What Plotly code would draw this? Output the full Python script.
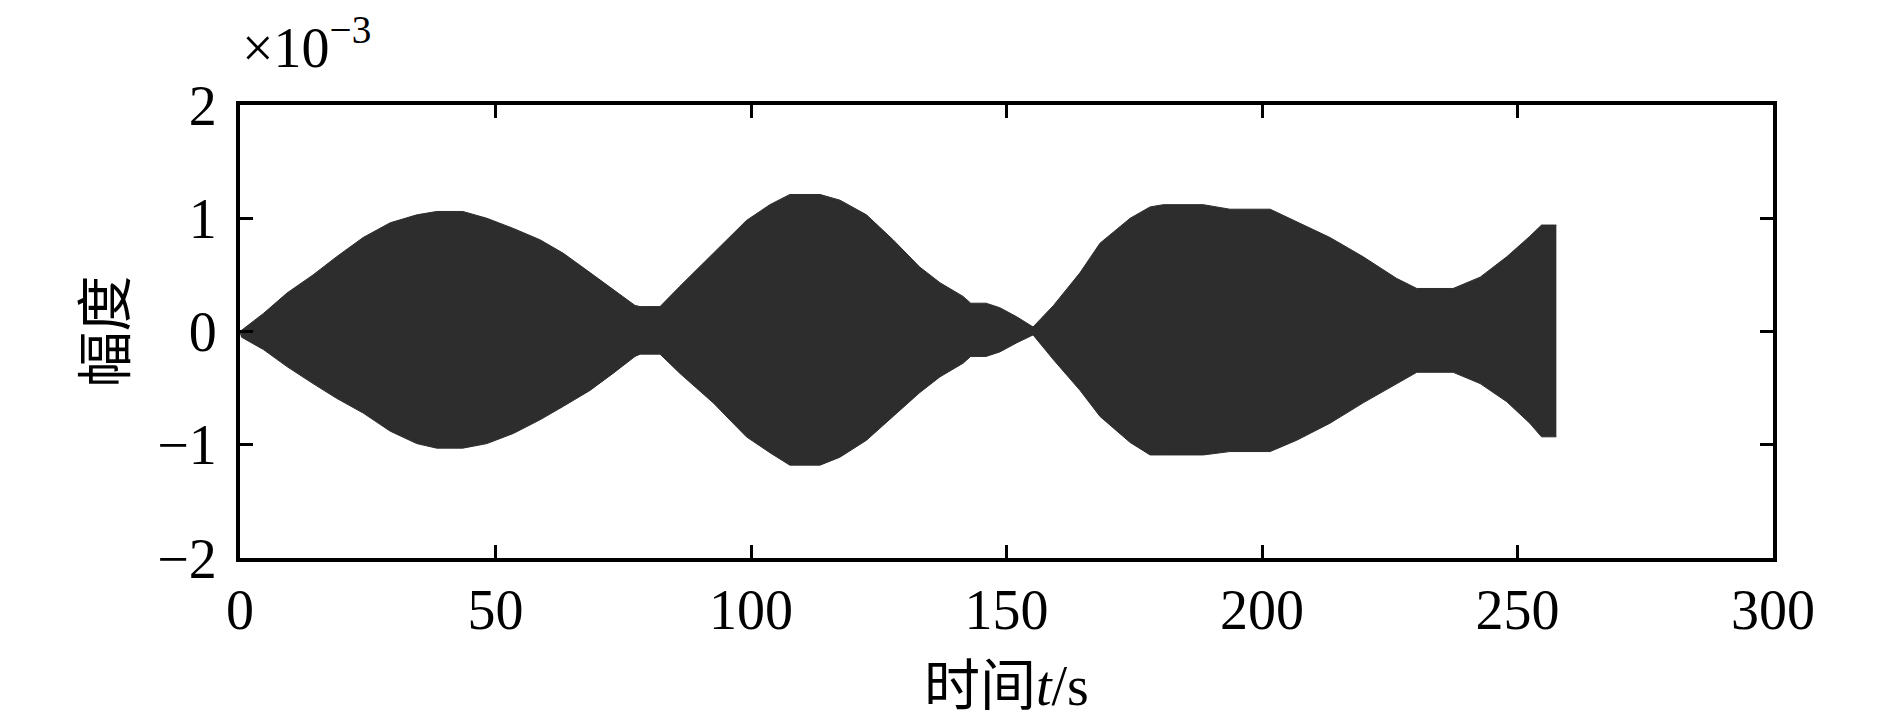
import plotly.graph_objects as go

# envelope of the signal (amplitude in units of 1e-3)
t = [0, 0.3, 4.6, 9.2, 14.3, 18.9, 24.1, 29.4, 34.6, 38.5, 43.6, 48.3, 53.5,
     58.7, 63.3, 68.5, 73.0, 77.3, 78.3, 82.2, 86.1, 92.6, 99.1, 103.7, 107.6,
     113.5, 117.4, 122.6, 127.8, 133.0, 137.0, 141.5, 143.0, 146.0, 148.7,
     152.0, 155.2, 159.2, 164.4, 168.3, 174.2, 178.1, 180.7, 188.5, 193.7,
     201.6, 206.8, 213.3, 219.8, 226.3, 230.3, 237.4, 242.7, 247.9, 252.4,
     254.7, 257.6]
upper = [0.0, 0.01, 0.16, 0.34, 0.50, 0.66, 0.83, 0.96, 1.03, 1.06, 1.06, 1.00,
         0.91, 0.81, 0.69, 0.52, 0.37, 0.23, 0.22, 0.22, 0.40, 0.69, 0.98, 1.12,
         1.21, 1.21, 1.16, 1.03, 0.81, 0.57, 0.43, 0.31, 0.25, 0.25, 0.21, 0.13,
         0.04, 0.23, 0.52, 0.78, 1.00, 1.10, 1.12, 1.12, 1.08, 1.08, 0.97, 0.83,
         0.66, 0.47, 0.38, 0.38, 0.48, 0.66, 0.84, 0.94, 0.94]
lower = [0.0, -0.05, -0.16, -0.31, -0.46, -0.59, -0.72, -0.88, -0.99, -1.03,
         -1.03, -0.99, -0.90, -0.78, -0.66, -0.52, -0.37, -0.22, -0.20, -0.20,
         -0.37, -0.63, -0.93, -1.07, -1.18, -1.18, -1.11, -0.96, -0.75, -0.54,
         -0.40, -0.28, -0.22, -0.22, -0.18, -0.10, -0.03, -0.25, -0.52, -0.75,
         -0.98, -1.09, -1.09, -1.09, -1.06, -1.06, -0.96, -0.81, -0.63, -0.46,
         -0.36, -0.36, -0.46, -0.62, -0.81, -0.93, -0.93]

x_ticks = [0, 50, 100, 150, 200, 250, 300]
y_ticks = [-2, -1, 0, 1, 2]
y_ticktext = ["\u22122", "\u22121", "0", "1", "2"]

serif = "Liberation Serif, Noto Sans CJK SC"
ink = "#2d2d2d"

fig = go.Figure()
fig.add_trace(go.Scatter(x=t, y=upper, mode="lines",
                         line=dict(color=ink, width=1), showlegend=False))
fig.add_trace(go.Scatter(x=t, y=lower, mode="lines", fill="tonexty",
                         fillcolor=ink, line=dict(color=ink, width=1),
                         showlegend=False))

axis_style = dict(showline=True, linewidth=4, linecolor="black", mirror="ticks",
                  ticks="inside", ticklen=13, tickwidth=3, tickcolor="black",
                  showgrid=False, zeroline=False,
                  tickfont=dict(family=serif, size=56, color="black"))

fig.update_xaxes(range=[0, 300], tickvals=x_ticks, **axis_style)
fig.update_yaxes(range=[-2, 2], tickvals=y_ticks, ticktext=y_ticktext,
                 ticklabelstandoff=8, **axis_style)

# page body adds ~8px offset, so margins are shifted to compensate
fig.update_layout(
    width=1890, height=725,
    margin=dict(l=232, r=125, t=97, b=175),
    plot_bgcolor="white", paper_bgcolor="white",
    annotations=[
        dict(text="\u00d710<sup>\u22123</sup>", xref="paper", yref="paper",
             x=0.0, y=1.053, xanchor="left", yanchor="bottom", showarrow=False,
             font=dict(family=serif, size=56, color="black")),
        dict(text="时间<i>t</i>/s", xref="paper", yref="paper",
             x=0.5, y=-0.282, xanchor="center", yanchor="middle", showarrow=False,
             font=dict(family=serif, size=56, color="black")),
        dict(text="幅度", xref="paper", yref="paper", textangle=-90,
             x=-0.088, y=0.5, xanchor="center", yanchor="middle",
             showarrow=False, font=dict(family=serif, size=56, color="black")),
    ],
)

fig.write_html("out.html")
